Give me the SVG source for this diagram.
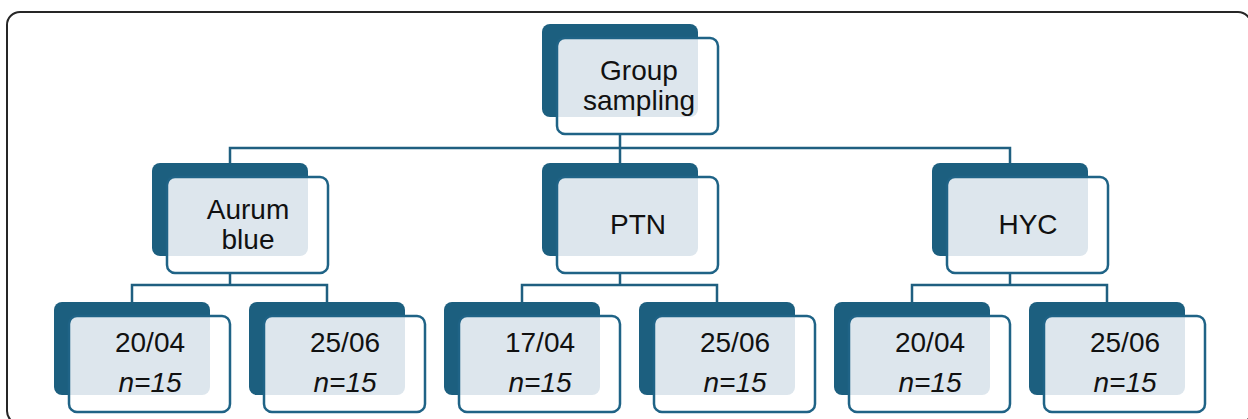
<svg xmlns="http://www.w3.org/2000/svg" xmlns:xlink="http://www.w3.org/1999/xlink" width="1248" height="419" viewBox="0 0 1248 419">
<style>
.frame{fill:#ffffff;stroke:#262626;stroke-width:2}
.conn{fill:none;stroke:#1f5f80;stroke-width:2.5}
.back{fill:#1c5f7f}
.front{fill:#ffffff}
.ov{fill:#dde6ed}
.edge{fill:none;stroke:#1f6386;stroke-width:2.5}
text{font-family:"Liberation Sans",Arial,sans-serif;font-size:28px;fill:#111111;text-anchor:middle}
.it{font-style:italic}
</style>
<defs>
<g id="box">
<rect class="back" x="0" y="0" width="156" height="93" rx="8"/>
<rect class="front" x="15" y="14" width="161" height="96" rx="8"/>
<path class="ov" d="M16,22 A7,7 0 0 1 23,15 H156 V85 A8,8 0 0 1 148,93 H16 Z"/>
<rect class="edge" x="15" y="14" width="161" height="96" rx="8"/>
</g>
</defs>
<rect class="frame" x="7" y="12" width="1244" height="412" rx="13"/>
<g id="connectors">
<path class="conn" d="M620,134 V148 M230,163 V148 H1010 V163 M620,148 V163"/>
<path class="conn" d="M230,273 V285 M132,302 V285 H327 V302"/>
<path class="conn" d="M620,273 V285 M522,302 V285 H717 V302"/>
<path class="conn" d="M1010,273 V285 M912,302 V285 H1107 V302"/>
</g>
<g id="n-group" transform="translate(542,24)">
<use xlink:href="#box"/>
<text x="97" y="56">Group</text>
<text x="97" y="86">sampling</text>
</g>
<g id="n-aurum" transform="translate(152,163)">
<use xlink:href="#box"/>
<text x="96" y="56">Aurum</text>
<text x="96" y="86">blue</text>
</g>
<g id="n-ptn" transform="translate(542,163)">
<use xlink:href="#box"/>
<text x="96" y="71">PTN</text>
</g>
<g id="n-hyc" transform="translate(932,163)">
<use xlink:href="#box"/>
<text x="96" y="71">HYC</text>
</g>
<g id="n-aurum-2004" transform="translate(54,302)">
<use xlink:href="#box"/>
<text x="96" y="50">20/04</text>
<text class="it" x="96" y="90">n=15</text>
</g>
<g id="n-aurum-2506" transform="translate(249,302)">
<use xlink:href="#box"/>
<text x="96" y="50">25/06</text>
<text class="it" x="96" y="90">n=15</text>
</g>
<g id="n-ptn-1704" transform="translate(444,302)">
<use xlink:href="#box"/>
<text x="96" y="50">17/04</text>
<text class="it" x="96" y="90">n=15</text>
</g>
<g id="n-ptn-2506" transform="translate(639,302)">
<use xlink:href="#box"/>
<text x="96" y="50">25/06</text>
<text class="it" x="96" y="90">n=15</text>
</g>
<g id="n-hyc-2004" transform="translate(834,302)">
<use xlink:href="#box"/>
<text x="96" y="50">20/04</text>
<text class="it" x="96" y="90">n=15</text>
</g>
<g id="n-hyc-2506" transform="translate(1029,302)">
<use xlink:href="#box"/>
<text x="96" y="50">25/06</text>
<text class="it" x="96" y="90">n=15</text>
</g>
</svg>
